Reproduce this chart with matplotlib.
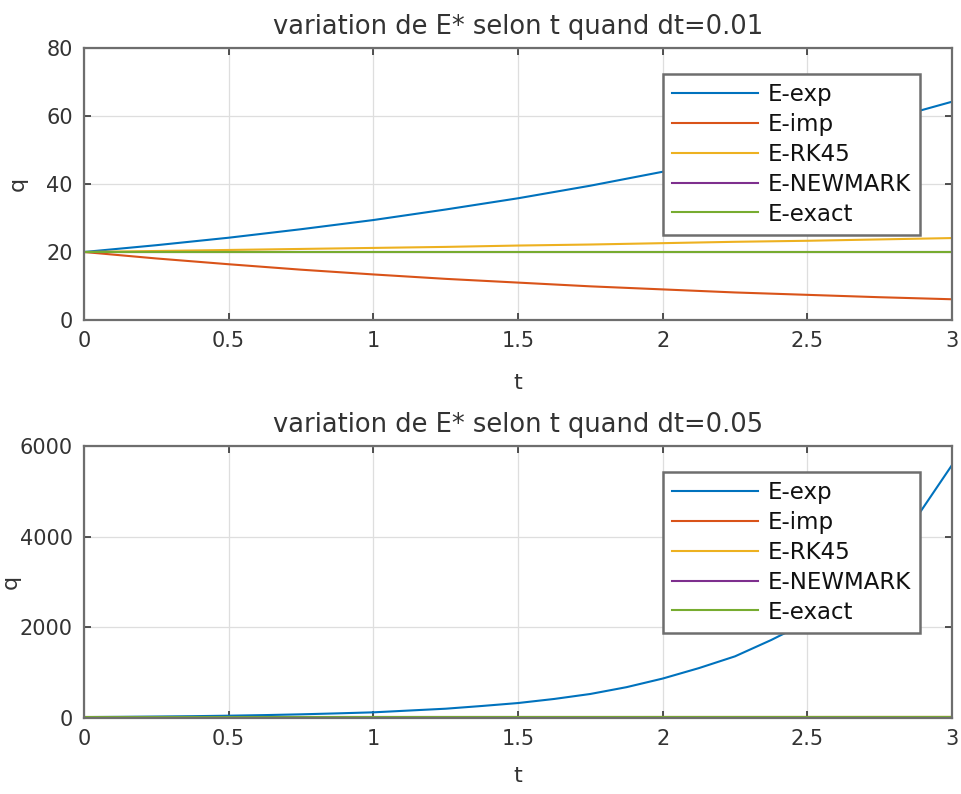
import matplotlib
matplotlib.use("Agg")
import matplotlib.pyplot as plt

plt.rcParams['font.family'] = ['DejaVu Sans']

# ---- data ----
t_top = [0, 0.25, 0.5, 0.75, 1.0, 1.25, 1.5, 1.75, 2.0, 2.25, 2.5, 2.75, 3.0]

# dt = 0.01
exp_01 = [20, 22.0, 24.2, 26.7, 29.4, 32.5, 35.8, 39.5, 43.6, 48.0, 52.9, 58.3, 64.2]
imp_01 = [20, 18.1, 16.4, 14.8, 13.4, 12.1, 11.0, 9.9, 9.0, 8.1, 7.4, 6.7, 6.1]
rk_01 = [20, 20.3, 20.6, 20.9, 21.2, 21.5, 21.9, 22.2, 22.6, 23.0, 23.3, 23.7, 24.1]
nm_01 = [20, 20, 20, 20, 20, 20, 20, 20, 20, 20, 20, 20, 20]
ex_01 = [20, 20, 20, 20, 20, 20, 20, 20, 20, 20, 20, 20, 20]

# dt = 0.05
t_bot = [0, 0.125, 0.25, 0.375, 0.5, 0.625, 0.75, 0.875, 1.0, 1.125, 1.25, 1.375,
         1.5, 1.625, 1.75, 1.875, 2.0, 2.125, 2.25, 2.375, 2.5, 2.625, 2.75, 2.875, 3.0]
exp_05 = [20, 25, 32, 40, 51, 64, 81, 102, 125, 165, 205, 265,
          330, 420, 530, 680, 870, 1100, 1360, 1720, 2120, 2730, 3450, 4400, 5580]
imp_05 = [20, 19.0, 18.2, 17.3, 16.5, 15.7, 15.0, 14.3, 13.6, 13.0, 12.4, 11.8,
          11.2, 10.7, 10.2, 9.7, 9.3, 8.8, 8.4, 8.0, 7.7, 7.3, 7.0, 6.6, 6.3]
rk_05 = [20, 20.2, 20.3, 20.5, 20.6, 20.8, 20.9, 21.1, 21.2, 21.4, 21.5, 21.7,
         21.9, 22.0, 22.2, 22.4, 22.6, 22.8, 23.0, 23.1, 23.3, 23.5, 23.7, 23.9, 24.1]
nm_05 = [20] * 25
ex_05 = [20] * 25

labels = ['E-exp', 'E-imp', 'E-RK45', 'E-NEWMARK', 'E-exact']
colors = ['#0072BD', '#D95319', '#EDB120', '#7E2F8E', '#77AC30']

xticks = [0, 0.5, 1, 1.5, 2, 2.5, 3]
xticklabels = ['0', '0.5', '1', '1.5', '2', '2.5', '3']
yticks_top = [0, 20, 40, 60, 80]
yticks_bot = [0, 2000, 4000, 6000]

W, H = 962, 794
fig = plt.figure(figsize=(W / 100, H / 100), dpi=100)

def px_axes(left, top, right, bottom):
    return fig.add_axes([left / W, 1 - bottom / H, (right - left) / W, (bottom - top) / H])

ax1 = px_axes(84, 48, 952, 320)
ax2 = px_axes(84, 446, 952, 718)

spine_col = '#6e6e6e'
text_col = '#333333'

def style(ax, tt, series, yticks, ylim, title, xlpad, ylab_x):
    for y, lab, c in zip(series, labels, colors):
        ax.plot(tt, y, color=c, lw=1.5, label=lab)
    ax.set_xlim(0, 3)
    ax.set_ylim(*ylim)
    ax.set_xticks(xticks)
    ax.set_xticklabels(xticklabels)
    ax.set_yticks(yticks)
    ax.grid(True, color='#dedede', lw=0.9)
    ax.set_axisbelow(True)
    for s in ax.spines.values():
        s.set_color(spine_col)
        s.set_linewidth(1.6)
    ax.tick_params(direction='in', length=5, width=1.2, color='#333333',
                   labelsize=15, labelcolor=text_col, pad=8,
                   top=True, right=True)
    ax.set_xlabel('t', fontsize=16, color=text_col, labelpad=xlpad)
    yl = ax.set_ylabel('q', fontsize=16, color=text_col,
                       ha='center', va='center', rotation_mode='default')
    ax.yaxis.set_label_coords((ylab_x - 84) / 868, 0.5)
    ax.set_title(title, fontsize=18.5, color=text_col, pad=10)
    leg = ax.legend(loc='upper left', bbox_to_anchor=((663 - 84) / 868, 0.905),
                    borderaxespad=0, fancybox=False, framealpha=1,
                    edgecolor=spine_col, fontsize=16.5, handlelength=3.75,
                    handletextpad=0.4, labelspacing=0.3, borderpad=0.4)
    leg.get_frame().set_linewidth(1.8)
    for txt in leg.get_texts():
        txt.set_color('#111111')

style(ax1, t_top, [exp_01, imp_01, rk_01, nm_01, ex_01], yticks_top, (0, 80),
      'variation de E* selon t quand dt=0.01', 16, 18)
style(ax2, t_bot, [exp_05, imp_05, rk_05, nm_05, ex_05], yticks_bot, (0, 6000),
      'variation de E* selon t quand dt=0.05', 12, 11)

fig.savefig('out.png', dpi=100)
